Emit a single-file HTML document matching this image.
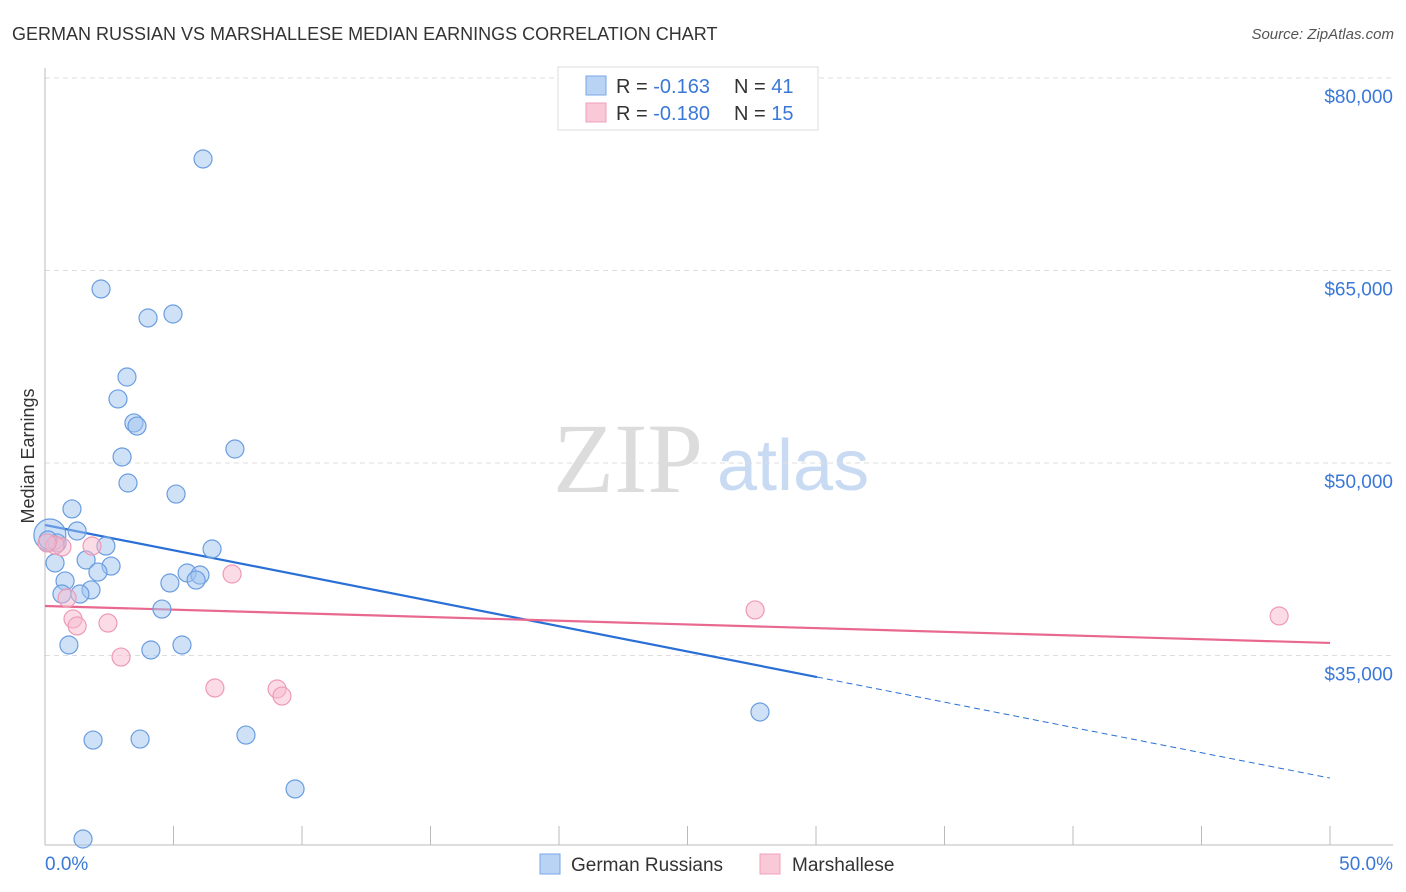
<!DOCTYPE html>
<html><head><meta charset="utf-8"><style>
body{margin:0;background:#fff;font-family:"Liberation Sans",sans-serif}
svg{display:block}
</style></head><body>
<svg width="1406" height="892" viewBox="0 0 1406 892">
<text x="12" y="40" font-size="18" fill="#333">GERMAN RUSSIAN VS MARSHALLESE MEDIAN EARNINGS CORRELATION CHART</text>
<text x="1394" y="39" font-size="15" font-style="italic" fill="#555" text-anchor="end">Source: ZipAtlas.com</text>
<g>
<text x="553" y="492" font-size="100" font-family="Liberation Serif,serif" fill="#dcdcdc">ZIP</text>
<text x="717" y="490" font-size="72" fill="#c9daf3">atlas</text>
</g>
<g id="grid"></g>
<line x1="45" y1="68" x2="45" y2="845" stroke="#bbb"/>
<line x1="45" y1="845" x2="1393" y2="845" stroke="#bbb"/>
<g id="xticks"></g>
<text x="45" y="870" font-size="19" fill="#3a78d8">0.0%</text>
<text x="1393" y="870" font-size="19" fill="#3a78d8" text-anchor="end">50.0%</text>
<text transform="translate(34,456) rotate(-90)" font-size="18" fill="#333" text-anchor="middle">Median Earnings</text>
<g id="trends"></g>
<g id="points"></g>
<g>
<rect x="558" y="67" width="260" height="63" fill="#fff" stroke="#ddd"/>
<rect x="586" y="76" width="20" height="19" fill="#b9d3f5" stroke="#7aa6e6"/>
<rect x="586" y="103" width="20" height="19" fill="#f9c9d8" stroke="#f0a0ba"/>
<text x="616" y="93" font-size="20" fill="#333">R = <tspan fill="#3a78d8">-0.163</tspan><tspan x="734">N = </tspan><tspan fill="#3a78d8">41</tspan></text>
<text x="616" y="120" font-size="20" fill="#333">R = <tspan fill="#3a78d8">-0.180</tspan><tspan x="734">N = </tspan><tspan fill="#3a78d8">15</tspan></text>
</g>
<g>
<rect x="540" y="854" width="20" height="20" fill="#b9d3f5" stroke="#7aa6e6"/>
<text x="571" y="871" font-size="19" fill="#333">German Russians</text>
<rect x="760" y="854" width="20" height="20" fill="#f9c9d8" stroke="#f0a0ba"/>
<text x="792" y="871" font-size="19" fill="#333">Marshallese</text>
</g>
</svg>
<script>
const yTicks=[80000,65000,50000,35000];
const yTickLabels=["$80,000","$65,000","$50,000","$35,000"];
const blueX=[6.15,2.18,4.01,4.98,3.19,2.84,3.46,3.58,3.00,7.39,3.23,5.10,1.05,1.25,0.19,0.47,2.37,6.50,1.60,0.39,2.57,2.06,5.53,6.03,5.88,4.86,0.78,1.79,1.36,0.66,4.55,0.93,4.12,5.33,1.87,3.70,7.82,9.73,1.48,27.82,0.12];
const blueY=[73690,63560,61300,61610,56700,54990,53120,52880,50470,51090,48440,47580,46420,44700,44390,43770,43530,43300,42440,42210,41970,41500,41430,41270,40880,40650,40810,40110,39790,39790,38620,35820,35430,35820,28410,28490,28800,24600,20700,30600,44000];
const pinkX=[0.66,0.39,1.83,7.28,0.86,1.09,1.25,2.45,2.96,6.61,9.03,9.22,27.63,48.02,0.08];
const pinkY=[43460,43610,43530,41350,39480,37850,37300,37530,34880,32470,32390,31840,38550,38080,43770];
const blueTrend=[45170,25450];
const pinkTrend=[38860,35980];
const NS="http://www.w3.org/2000/svg";
const xs=v=>45+v/50*1285;
const ys=v=>78+(80000-v)/15000*192.5;
function mk(tag,attrs,parent){const e=document.createElementNS(NS,tag);for(const k in attrs)e.setAttribute(k,attrs[k]);document.getElementById(parent).appendChild(e);return e;}
yTicks.forEach((t,i)=>{
 const l=mk('line',{x1:45,x2:1393,y1:ys(t),y2:ys(t),stroke:'#ddd','stroke-dasharray':'5,4'},'grid');
 
 
 const tx=mk('text',{x:1393,y:ys(t)+25,'font-size':19,fill:'#3a78d8','text-anchor':'end'},'grid');
 tx.textContent=yTickLabels[i];
 
 
});
for(let i=0;i<=10;i++){
 const l=mk('line',{x1:xs(i*5),x2:xs(i*5),y1:826,y2:845,stroke:'#bbb'},'xticks');
 
 
}
const bx1=30.04;
const bMid=blueTrend[0]+(blueTrend[1]-blueTrend[0])*bx1/50;
let l=mk('line',{x1:xs(0),y1:ys(blueTrend[0]),x2:xs(bx1),y2:ys(bMid),stroke:'#2a6fd6','stroke-width':2.2},'trends');


l=mk('line',{x1:xs(bx1),y1:ys(bMid),x2:xs(50),y2:ys(blueTrend[1]),stroke:'#2a6fd6','stroke-width':1,'stroke-dasharray':'6,4'},'trends');


l=mk('line',{x1:xs(0),y1:ys(pinkTrend[0]),x2:xs(50),y2:ys(pinkTrend[1]),stroke:'#e8688f','stroke-width':2.2},'trends');


blueX.forEach((x,i)=>{
 const c=mk('circle',{cx:xs(x),cy:ys(blueY[i]),r:(i===14?16:9),fill:'rgba(160,196,240,0.5)',stroke:'#6a9de0','stroke-width':1.2},'points');
 
 
});
pinkX.forEach((x,i)=>{
 const c=mk('circle',{cx:xs(x),cy:ys(pinkY[i]),r:9,fill:'rgba(248,185,205,0.5)',stroke:'#ee9ab5','stroke-width':1.2},'points');
 
 
});
</script>
</body></html>
